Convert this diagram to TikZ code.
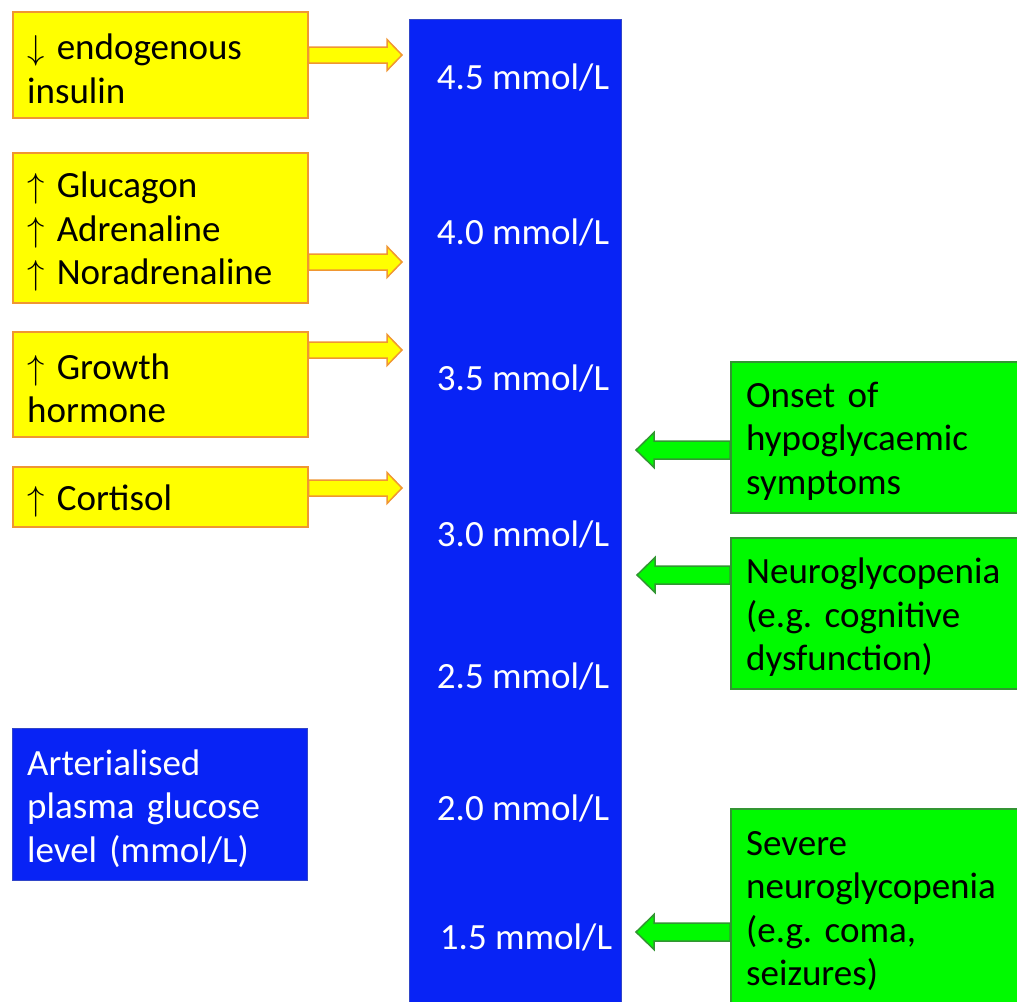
\documentclass[tikz,border=0pt]{standalone}
\usepackage{fontspec}
\setmainfont{Carlito}
\usetikzlibrary{calc}
\definecolor{yfill}{RGB}{255,255,0}
\definecolor{ydraw}{RGB}{240,150,50}
\definecolor{gfill}{RGB}{0,250,0}
\definecolor{gdraw}{RGB}{50,150,50}
\definecolor{bfill}{RGB}{8,35,245}
\definecolor{bdraw}{RGB}{50,70,200}
\newcommand\upar{\resizebox{!}{24pt}{$\uparrow$}}
\newcommand\downar{\resizebox{!}{24pt}{$\downarrow$}}
\newcommand\rarrow[3]{\draw[#1] let \p1=(#2), \p2=(#3) in
  (\x1,\y1+8pt) -- (\x2-15pt,\y1+8pt) -- (\x2-15pt,\y1+15.5pt) -- (\x2,\y1) --
  (\x2-15pt,\y1-15.5pt) -- (\x2-15pt,\y1-8pt) -- (\x1,\y1-8pt) -- cycle;}
\newcommand\larrow[3]{\draw[#1] let \p1=(#2), \p2=(#3) in
  (\x1,\y1+9pt) -- (\x2+18pt,\y1+9pt) -- (\x2+18pt,\y1+17.5pt) -- (\x2,\y1) --
  (\x2+18pt,\y1-17.5pt) -- (\x2+18pt,\y1-9pt) -- (\x1,\y1-9pt) -- cycle;}
\begin{document}
\begin{tikzpicture}[x=1pt,y=-1pt,
  txt/.style={font=\fontsize{37}{43.5}\selectfont\frenchspacing},
  frame/.style={anchor=north west,inner sep=0pt,minimum width=#1},
  ybox/.style={frame=295pt,draw=ydraw,fill=yfill,line width=1.5pt},
  gbox/.style={frame=300pt,draw=gdraw,fill=gfill,line width=1.5pt},
  bbox/.style={frame=295pt,draw=bdraw,fill=bfill,line width=1pt},
  btxt/.style={txt,anchor=west,inner sep=0pt,align=left,text width=270pt,yshift=-4pt},
  lvl/.style={txt,text=white},
  yarrow/.style={draw=ydraw,fill=yfill,line width=1.5pt,line join=miter},
  garrow/.style={draw=gdraw,fill=gfill,line width=1.5pt,line join=miter}]
\useasboundingbox (0,0) rectangle (1017,1001);
% bar
\node[draw=bdraw,fill=bfill,line width=1pt,anchor=north west,minimum width=212pt,minimum height=995pt,inner sep=0pt] (bar) at (409,19) {};
\node[lvl] (l45) at (523,77) {4.5 mmol/L};
\node[lvl] (l40) at (523,232) {4.0 mmol/L};
\node[lvl] (l35) at (523,378) {3.5 mmol/L};
\node[lvl] (l30) at (523,534) {3.0 mmol/L};
\node[lvl] (l25) at (523,676) {2.5 mmol/L};
\node[lvl] (l20) at (523,808) {2.0 mmol/L};
\node[lvl] (l15) at (526,937) {1.5 mmol/L};
% yellow boxes
\node[ybox,minimum height=106pt] (y1) at (12,11) {};
\node[btxt] (y1t) at ([xshift=15pt]y1.west) {\downar\ endogenous\\insulin};
\node[ybox,minimum height=150pt] (y2) at (12,152) {};
\node[btxt] (y2t) at ([xshift=15pt]y2.west) {\upar\ Glucagon\\\upar\ Adrenaline\\\upar\ Noradrenaline};
\node[ybox,minimum height=105pt] (y3) at (12,331) {};
\node[btxt] (y3t) at ([xshift=15pt]y3.west) {\upar\ Growth\\hormone};
\node[ybox,minimum height=60pt] (y4) at (12,466) {};
\node[btxt] (y4t) at ([xshift=15pt]y4.west) {\upar\ Cortisol};
% blue legend
\node[bbox,minimum height=152pt] (leg) at (12,728) {};
\node[btxt,text=white] (legt) at ([xshift=15pt]leg.west) {Arterialised\\plasma glucose\\level (mmol/L)};
% green boxes
\node[gbox,minimum height=151pt] (g1) at (730,361) {};
\node[btxt] (g1t) at ([xshift=16pt]g1.west) {Onset of\\hypoglycaemic\\symptoms};
\node[gbox,minimum height=151pt] (g2) at (730,537) {};
\node[btxt] (g2t) at ([xshift=16pt]g2.west) {Neuroglycopenia\\(e.g. cognitive\\dysfunction)};
\node[gbox,minimum height=205pt] (g3) at (730,808) {};
\node[btxt,anchor=north west,yshift=0pt] (g3t) at (746,827) {Severe\\neuroglycopenia\\(e.g. coma,\\seizures)};
% arrows
\coordinate (a1s) at (y1.east |- 0,55);  \coordinate (a1e) at ([xshift=-7pt]bar.west |- 0,55);
\coordinate (a2s) at (y2.east |- 0,262); \coordinate (a2e) at ([xshift=-7pt]bar.west |- 0,262);
\coordinate (a3s) at (y3.east |- 0,350); \coordinate (a3e) at ([xshift=-7pt]bar.west |- 0,350);
\coordinate (a4s) at (y4.east |- 0,488); \coordinate (a4e) at ([xshift=-7pt]bar.west |- 0,488);
\rarrow{yarrow}{a1s}{a1e}
\rarrow{yarrow}{a2s}{a2e}
\rarrow{yarrow}{a3s}{a3e}
\rarrow{yarrow}{a4s}{a4e}
\coordinate (b1s) at (g1.west |- 0,450); \coordinate (b1e) at ([xshift=14pt]bar.east |- 0,450);
\coordinate (b2s) at (g2.west |- 0,575); \coordinate (b2e) at ([xshift=15pt]bar.east |- 0,575);
\coordinate (b3s) at (g3.west |- 0,932); \coordinate (b3e) at ([xshift=14pt]bar.east |- 0,932);
\larrow{garrow}{b1s}{b1e}
\larrow{garrow}{b2s}{b2e}
\larrow{garrow}{b3s}{b3e}
\end{tikzpicture}
\end{document}
